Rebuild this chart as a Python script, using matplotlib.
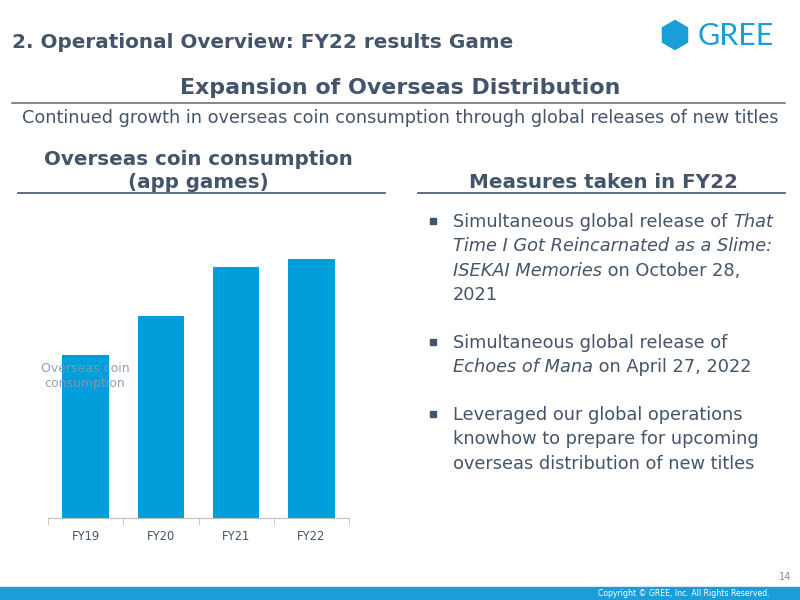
import matplotlib
matplotlib.use("Agg")
import matplotlib.pyplot as plt
from matplotlib.patches import Rectangle, RegularPolygon
from matplotlib.lines import Line2D

plt.rcParams['font.family'] = ['DejaVu Sans']

# chart data (relative values)
years = ["FY19", "FY20", "FY21", "FY22"]
coin_consumption = [163, 202, 251, 259]

TEXT = "#44546a"
BLUE = "#009fdb"
LOGO = "#1b9ed8"
W, H = 800, 600

fig = plt.figure(figsize=(8, 6), dpi=100)


def fx(x):
    return x / W


def fy(y):
    return 1 - y / H


def put(x, y, s, **kw):
    return fig.text(fx(x), fy(y), s, **kw)


def hline(x0, x1, y, color=TEXT, lw=1.2):
    fig.add_artist(Line2D([fx(x0), fx(x1)], [fy(y), fy(y)], color=color, lw=lw,
                          transform=fig.transFigure))


# header
put(12, 42, "2. Operational Overview: FY22 results Game", fontsize=14.4, fontweight="bold",
    color=TEXT, va="center", ha="left")
fig.add_artist(RegularPolygon((6.75, 6 - 0.35), numVertices=6, radius=0.145,
                              orientation=0, color=LOGO, transform=fig.dpi_scale_trans))
put(736, 36, "GREE", fontsize=22, color=LOGO, va="center", ha="center", family="Lato")

put(400, 88, "Expansion of Overseas Distribution", fontsize=15.9, fontweight="bold",
    color=TEXT, va="center", ha="center")
hline(12, 785, 103, color="#5a6878", lw=1.1)
put(400, 118, "Continued growth in overseas coin consumption through global releases of new titles",
    fontsize=12.7, color=TEXT, va="center", ha="center")

# section titles
put(198, 171, "Overseas coin consumption\n(app games)", fontsize=14.3, fontweight="bold",
    color=TEXT, va="center", ha="center", linespacing=1.25)
hline(18, 385, 193)
put(603, 183, "Measures taken in FY22", fontsize=14.3, fontweight="bold",
    color=TEXT, va="center", ha="center")
hline(418, 785, 193)

# bar chart
ax = fig.add_axes([fx(48), fy(518), fx(349) - fx(48), fy(200) - fy(518)])
ax.bar(range(len(years)), coin_consumption, width=0.62, color=BLUE)
ax.set_xlim(-0.5, len(years) - 0.5)
ax.set_ylim(0, 318)
for s in ["top", "left", "right"]:
    ax.spines[s].set_visible(False)
ax.spines["bottom"].set_color("#bfbfbf")
ax.set_yticks([])
ax.set_xticks(range(len(years)))
ax.set_xticklabels(years, fontsize=8.3, color=TEXT)
ax.tick_params(axis="x", which="major", length=0, pad=9)
ax.set_xticks([i - 0.5 for i in range(len(years) + 1)], minor=True)
ax.tick_params(axis="x", which="minor", length=5, color="#bfbfbf")
ax.set_facecolor("none")
put(85, 376, "Overseas coin\nconsumption", fontsize=9, color="#8497b0", alpha=0.9,
    va="center", ha="center", linespacing=1.3)

# bullets with mixed italic pieces
bullets = [
    [[("Simultaneous global release of ", "normal"), ("That", "italic")],
     [("Time I Got Reincarnated as a Slime:", "italic")],
     [("ISEKAI Memories", "italic"), (" on October 28,", "normal")],
     [("2021", "normal")]],
    [[("Simultaneous global release of", "normal")],
     [("Echoes of Mana", "italic"), (" on April 27, 2022", "normal")]],
    [[("Leveraged our global operations", "normal")],
     [("knowhow to prepare for upcoming", "normal")],
     [("overseas distribution of new titles", "normal")]],
]
bullet_tops = [221, 342, 414]
line_gap = 24.3

fig.canvas.draw()
renderer = fig.canvas.get_renderer()
for top, lines in zip(bullet_tops, bullets):
    fig.add_artist(Rectangle((fx(430), fy(top + 3)), 6 / W, 6 / H, color=TEXT,
                             transform=fig.transFigure))
    for i, pieces in enumerate(lines):
        y = top + i * line_gap + 6
        x = 453
        for s, style in pieces:
            t = put(x, y, s, fontsize=12.75, color=TEXT, style=style, va="baseline", ha="left")
            bb = t.get_window_extent(renderer)
            x += bb.width

# footer
fig.add_artist(Rectangle((0, 0), 1, 13 / H, color=LOGO, transform=fig.transFigure))
put(684, 593, "Copyright © GREE, Inc. All Rights Reserved.", fontsize=5.6, color="white",
    va="center", ha="center")
put(785, 577, "14", fontsize=7, color="#8c8c8c", va="center", ha="center")

fig.savefig("out.png", dpi=100)
